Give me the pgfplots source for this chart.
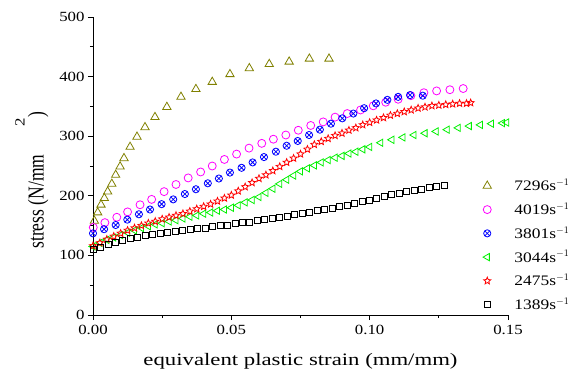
\documentclass[border=0pt]{standalone}
\usepackage{fontspec}
\setmainfont{Liberation Serif}[FakeStretch=1.2]
\newfontfamily\labfont{Liberation Serif}[FakeStretch=1.3]
\newfontfamily\ylabfont{Liberation Serif}[FakeStretch=0.77]
\usepackage{pgfplots}
\pgfplotsset{compat=1.18}
\definecolor{olivec}{RGB}{128,128,0}
\definecolor{magc}{RGB}{255,0,255}
\definecolor{bluec}{RGB}{0,0,255}
\definecolor{greenc}{RGB}{0,240,0}
\definecolor{redc}{RGB}{255,0,0}
\pgfdeclareplotmark{ostar}{%
  \pgfpathmoveto{\pgfpointpolar{90}{\pgfplotmarksize}}%
  \pgfpathlineto{\pgfpointpolar{126}{0.45*\pgfplotmarksize}}%
  \pgfpathlineto{\pgfpointpolar{162}{\pgfplotmarksize}}%
  \pgfpathlineto{\pgfpointpolar{198}{0.45*\pgfplotmarksize}}%
  \pgfpathlineto{\pgfpointpolar{234}{\pgfplotmarksize}}%
  \pgfpathlineto{\pgfpointpolar{270}{0.45*\pgfplotmarksize}}%
  \pgfpathlineto{\pgfpointpolar{306}{\pgfplotmarksize}}%
  \pgfpathlineto{\pgfpointpolar{342}{0.45*\pgfplotmarksize}}%
  \pgfpathlineto{\pgfpointpolar{18}{\pgfplotmarksize}}%
  \pgfpathlineto{\pgfpointpolar{54}{0.45*\pgfplotmarksize}}%
  \pgfpathclose\pgfusepathqstroke}
\begin{document}
\begin{tikzpicture}
\begin{axis}[
  scale only axis, width=415pt, height=298pt,
  xmin=0, xmax=0.15, ymin=0, ymax=500,
  axis x line*=bottom, axis y line*=left,
  axis line style={line width=0.9pt},
  xtick={0,0.05,0.1,0.15}, ytick={0,100,200,300,400,500},
  minor xtick={0.025,0.075,0.125}, minor ytick={50,150,250,350,450},
  tick align=outside, major tick length=5pt, minor tick length=3pt,
  tick style={line width=0.8pt, black},
  xticklabel style={/pgf/number format/fixed, /pgf/number format/fixed zerofill, /pgf/number format/precision=2, yshift=-2pt},
  scaled x ticks=false,
  /pgf/number format/assume math mode=true,
  ticklabel style={font=\fontsize{14}{16}\selectfont},
  xlabel={\labfont equivalent plastic strain (mm/mm)},
  ylabel={\ylabfont\fontsize{22.75}{26}\selectfont stress (N/mm\hspace{28pt}\raisebox{19pt}{\rmfamily\fontsize{14}{16}\selectfont 2}\hspace{1pt})},
  label style={font=\fontsize{17.5}{20}\selectfont},
  xlabel style={yshift=-11pt},
  ylabel style={yshift=4pt, xshift=-14pt},
  legend image code/.code={\path (0pt,0pt) (30pt,0pt); \draw[#1] plot coordinates {(5pt,0pt)};},
  legend style={draw=none, fill=none, at={(rel axis cs:0.937,0.463)}, anchor=north west,
    font=\fontsize{14.5}{16}\selectfont, row sep=6.6pt, inner sep=0pt},
  legend cell align=left,
  clip=false,
]
\coordinate (sw) at (rel axis cs:0,0);
\addplot[only marks, mark=triangle, mark size=4.8pt, color=olivec, mark options={line width=0.8pt}] coordinates {
(0.0005,158)(0.0017,172)(0.0029,185)(0.0041,196)(0.0053,207)(0.0068,220)(0.0082,235)(0.0098,249)
(0.0112,263)(0.0134,282)(0.0159,299)(0.0188,315)(0.0224,332)(0.0267,349)(0.0318,366)(0.0372,379)
(0.0431,391)(0.0495,404)(0.0565,414)(0.0637,421)(0.0709,425)(0.0782,430)(0.0853,430)};
\addlegendentry{7296s$^{-1}$}
\addplot[only marks, mark=o, mark size=4pt, color=magc, mark options={line width=0.8pt}] coordinates {
(0.0001,147)(0.0043,155)(0.0086,164)(0.0125,173)(0.0170,185)(0.0212,194)(0.0257,207)(0.0300,219)
(0.0344,230)(0.0389,240)(0.0431,250)(0.0475,261)(0.0519,270)(0.0564,280)(0.0610,288)(0.0652,295)
(0.0697,302)(0.0742,310)(0.0787,318)(0.0832,324)(0.0875,332)(0.0919,338)(0.0967,344)(0.1013,351)
(0.1058,357)(0.1103,362)(0.1149,368)(0.1196,373)(0.1242,376)(0.1290,378)(0.1338,380)};
\addlegendentry{4019s$^{-1}$}
\addplot[only marks, mark=otimes, mark size=3.6pt, color=bluec, mark options={line width=0.8pt}] coordinates {
(0.0000,137)(0.0040,144)(0.0082,151)(0.0124,160)(0.0166,169)(0.0206,177)(0.0248,186)(0.0290,194)
(0.0332,203)(0.0372,211)(0.0415,221)(0.0455,229)(0.0495,239)(0.0537,247)(0.0577,256)(0.0618,265)
(0.0661,274)(0.0700,284)(0.0740,292)(0.0781,302)(0.0820,311)(0.0860,321)(0.0901,330)(0.0941,338)
(0.0980,347)(0.1023,355)(0.1064,361)(0.1103,366)(0.1146,369)(0.1192,368)};
\addlegendentry{3801s$^{-1}$}
\addplot[only marks, mark=triangle, mark size=4.2pt, color=greenc, mark options={rotate=90, line width=0.8pt}] coordinates {
(0,115)(0.0025,121)(0.005,126)(0.0075,130)(0.01,134)(0.0125,138)(0.015,142)(0.0175,146)(0.02,149)
(0.0225,152)(0.025,154)(0.0275,157)(0.03,159)(0.0325,162)(0.035,165)(0.0375,167)(0.04,170)(0.0425,172)
(0.045,175)(0.0475,177)(0.05,180)(0.0525,184)(0.055,189)(0.0575,193)(0.06,198)(0.0625,205)(0.065,212)
(0.0675,220)(0.07,227)(0.0725,234)(0.075,241)(0.0775,246)(0.08,251)(0.0825,256)(0.085,260)(0.0875,264)
(0.09,267)(0.0925,271)(0.095,274)(0.0975,278)(0.10,282)(0.104,289)(0.108,294)(0.112,298)(0.116,302)
(0.12,305)(0.124,308)(0.128,311)(0.132,314)(0.136,317)(0.14,319)(0.144,321)(0.148,322)(0.1495,323)};
\addlegendentry{3044s$^{-1}$}
\addplot[only marks, mark=ostar, mark size=3.7pt, color=redc, mark options={line width=0.8pt}] coordinates {
(0,116)(0.0025,121)(0.005,127)(0.0075,132)(0.01,137)(0.0125,142)(0.015,146)(0.0175,150)(0.02,154)
(0.0225,157)(0.025,161)(0.0275,164)(0.03,167)(0.0325,170)(0.035,174)(0.0375,178)(0.04,182)(0.0425,186)
(0.045,191)(0.0475,196)(0.05,201)(0.0525,208)(0.055,215)(0.0575,222)(0.06,229)(0.0625,235)(0.065,242)
(0.0675,249)(0.07,256)(0.0725,263)(0.075,270)(0.0775,278)(0.08,286)(0.0825,291)(0.085,296)(0.0875,301)
(0.09,305)(0.0925,310)(0.095,314)(0.0975,319)(0.10,323)(0.1025,327)(0.105,331)(0.1075,335)(0.11,338)
(0.1125,341)(0.115,344)(0.1175,347)(0.12,349)(0.1225,351)(0.125,352)(0.1275,353)(0.13,354)(0.1325,355)
(0.135,355)(0.1365,356)};
\addlegendentry{2475s$^{-1}$}
\addplot[only marks, mark=square, mark size=3pt, color=black, mark options={line width=0.8pt}] coordinates {
(0,110)(0.0027,114)(0.0054,118)(0.0081,122)(0.0108,125)(0.0135,128)(0.0162,130)(0.0189,133)(0.0216,135)
(0.0243,137)(0.027,138)(0.0297,140)(0.0324,142)(0.0351,143)(0.0378,145)(0.0405,146)(0.0432,148)
(0.0459,150)(0.0486,151)(0.0513,153)(0.054,155)(0.0567,156)(0.0594,158)(0.0621,160)(0.0648,162)
(0.0675,164)(0.0702,166)(0.0729,168)(0.0756,170)(0.0783,172)(0.081,175)(0.0837,177)(0.0864,179)
(0.0891,182)(0.0918,184)(0.0945,187)(0.0972,190)(0.0999,193)(0.1026,196)(0.1053,199)(0.108,202)
(0.1107,204)(0.1134,207)(0.1161,209)(0.1188,211)(0.1215,214)(0.1242,216)(0.1269,218)};
\addlegendentry{1389s$^{-1}$}
\end{axis}
\pgfresetboundingbox
\path (sw) ++(-93pt,-61pt) rectangle ++(576pt,376pt);
\end{tikzpicture}
\end{document}
